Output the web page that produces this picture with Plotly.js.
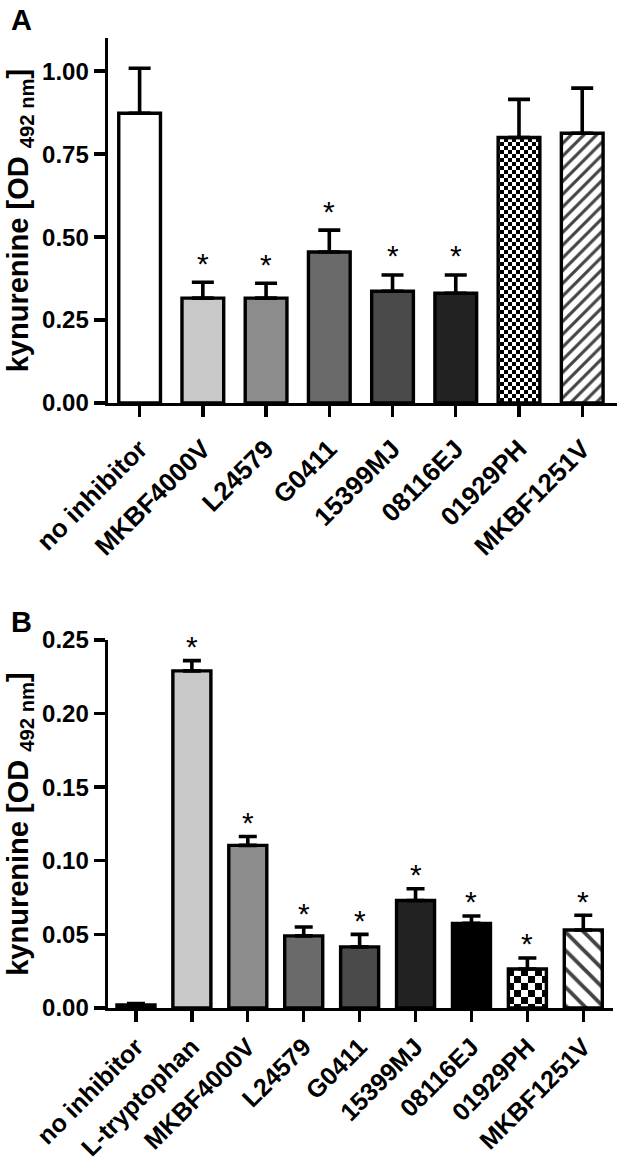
<!DOCTYPE html>
<html>
<head>
<meta charset="utf-8">
<script src="https://cdn.plot.ly/plotly-3.0.1.min.js"></script>
<style>html,body{margin:0;padding:0;background:#fff;}#chart{width:624px;height:1169px;}</style>
</head>
<body>
<div id="chart"></div>
<script>
// ---- Panel A data ----
const catsA = ['no inhibitor','MKBF4000V','L24579','G0411','15399MJ','08116EJ','01929PH','MKBF1251V'];
const valsA = [0.873, 0.316, 0.316, 0.455, 0.337, 0.331, 0.800, 0.813];
const errA  = [0.136, 0.048, 0.045, 0.066, 0.049, 0.055, 0.115, 0.136];
const sigA  = [false, true, true, true, true, true, false, false];

// ---- Panel B data ----
const catsB = ['no inhibitor','L-tryptophan','MKBF4000V','L24579','G0411','15399MJ','08116EJ','01929PH','MKBF1251V'];
const valsB = [0.002, 0.229, 0.1105, 0.049, 0.0415, 0.073, 0.0575, 0.0265, 0.053];
const errB  = [0.001, 0.007, 0.0060, 0.006, 0.0085, 0.008, 0.0050, 0.0075, 0.010];
const sigB  = [false, true, true, true, true, true, true, true, true];

// ---- styles ----
const fillA = ['#ffffff','#c8c8c8','#8c8c8c','#6a6a6a','#4a4a4a','#222222','#ffffff','#ffffff'];
const patA  = ['','','','','','','.','/'];
const patSizeA = [8,8,8,8,8,8,8,9];
const patSolA  = [0.4,0.4,0.4,0.4,0.4,0.4,0.4,0.34];
const fillB = ['#ffffff','#c8c8c8','#8c8c8c','#6a6a6a','#4a4a4a','#222222','#000000','#ffffff','#ffffff'];
const patB  = ['','','','','','','','.','\\'];
const patSizeB = [14,14,14,14,14,14,14,14,13];
const patSolB  = [0.4,0.4,0.4,0.4,0.4,0.4,0.4,0.4,0.3];

const FONT = 'Liberation Sans, Arial, Helvetica, sans-serif';

function barTrace(cats, vals, errs, fills, pats, sizes, sols, xa, ya, width, capw){
  return {
    type:'bar', x:cats, y:vals, xaxis:xa, yaxis:ya, width:width,
    marker:{color:fills, line:{color:'#000', width:3.4},
      pattern:{shape:pats, fillmode:'overlay', fgcolor:'#000', fgopacity:1, size:sizes, solidity:sols}},
    error_y:{type:'data', array:errs, arrayminus:errs.map(()=>0), symmetric:false,
      color:'#000', thickness:3.6, width:capw, visible:true},
    hoverinfo:'skip', showlegend:false
  };
}

const traces = [
  barTrace(catsA, valsA, errA, fillA, patA, patSizeA, patSolA, 'x', 'y', 0.66, 11),
  barTrace(catsB, valsB, errB, fillB, patB, patSizeB, patSolB, 'x2', 'y2', 0.68, 9)
];

const annotations = [];
catsA.forEach((c,i)=>{ if(sigA[i]) annotations.push({x:c, y:valsA[i]+errA[i], xref:'x', yref:'y',
  text:'*', showarrow:false, yanchor:'middle', yshift:19, font:{family:FONT, size:30, color:'#000'}}); });
catsB.forEach((c,i)=>{ if(sigB[i]) annotations.push({x:c, y:valsB[i]+errB[i], xref:'x2', yref:'y2',
  text:'*', showarrow:false, yanchor:'middle', yshift:14, font:{family:FONT, size:30, color:'#000'}}); });
annotations.push({text:'A', xref:'paper', yref:'paper', x:-0.195, y:1.0+18/970, xanchor:'left', yanchor:'middle',
  showarrow:false, font:{family:FONT, size:29, color:'#000', weight:700}});
annotations.push({text:'B', xref:'paper', yref:'paper', x:-0.195, y:(1008-622)/970, xanchor:'left', yanchor:'middle',
  showarrow:false, font:{family:FONT, size:29, color:'#000', weight:700}});

const axCommon = {
  showline:true, linecolor:'#000', linewidth:3.4, ticks:'outside', ticklen:11, tickwidth:3.4, tickcolor:'#000',
  showgrid:false, zeroline:false, automargin:false
};
const ytitle = (txt)=>({text:txt, font:{family:FONT, size:29, color:'#000', weight:700}, standoff:6});

const layout = {
  width:624, height:1169, paper_bgcolor:'#fff', plot_bgcolor:'#fff',
  margin:{l:108, r:7, t:38, b:161},
  font:{family:FONT, color:'#000'},
  xaxis: Object.assign({}, axCommon, {domain:[0,1], anchor:'y', range:[-0.5,7.55], tickangle:-45,
    ticklabelstandoff:6, tickfont:{family:FONT, size:26, color:'#000', weight:700}}),
  yaxis: Object.assign({}, axCommon, {domain:[0.6237,1], anchor:'x', range:[0,1.1],
    tickvals:[0,0.25,0.5,0.75,1.0], tickformat:'.2f',
    tickfont:{family:FONT, size:24, color:'#000', weight:700},
    title:ytitle('kynurenine [OD <sub>492 nm</sub>]')}),
  xaxis2: Object.assign({}, axCommon, {domain:[0,0.992], anchor:'y2', range:[-0.5,8.53], tickangle:-45,
    tickfont:{family:FONT, size:25, color:'#000', weight:700}}),
  yaxis2: Object.assign({}, axCommon, {domain:[0,0.3794], anchor:'x2', range:[0,0.25],
    tickvals:[0,0.05,0.10,0.15,0.20,0.25], tickformat:'.2f',
    tickfont:{family:FONT, size:24, color:'#000', weight:700},
    title:ytitle('kynurenine [OD <sub>492 nm</sub>]')}),
  annotations:annotations
};

// Turn Plotly's dot pattern tiles into checkerboard tiles (styling only)
function checkerize(gd){
  const NS = 'http://www.w3.org/2000/svg';
  gd.querySelectorAll('pattern').forEach(p=>{
    if(!p.querySelector('circle')) return;
    const w = parseFloat(p.getAttribute('width'));
    const s = w/2;
    p.removeAttribute('patternTransform');
    p.setAttribute('height', w);
    while(p.firstChild) p.removeChild(p.firstChild);
    const mk = (x,y,sz,fill)=>{const r=document.createElementNS(NS,'rect');
      r.setAttribute('x',x);r.setAttribute('y',y);r.setAttribute('width',sz);r.setAttribute('height',sz);
      r.setAttribute('fill',fill);p.appendChild(r);};
    mk(0,0,w,'#ffffff'); mk(0,0,s,'#000000'); mk(s,s,s,'#000000');
  });
}

Plotly.newPlot('chart', traces, layout, {staticPlot:true, displayModeBar:false}).then(checkerize);
</script>
</body>
</html>
